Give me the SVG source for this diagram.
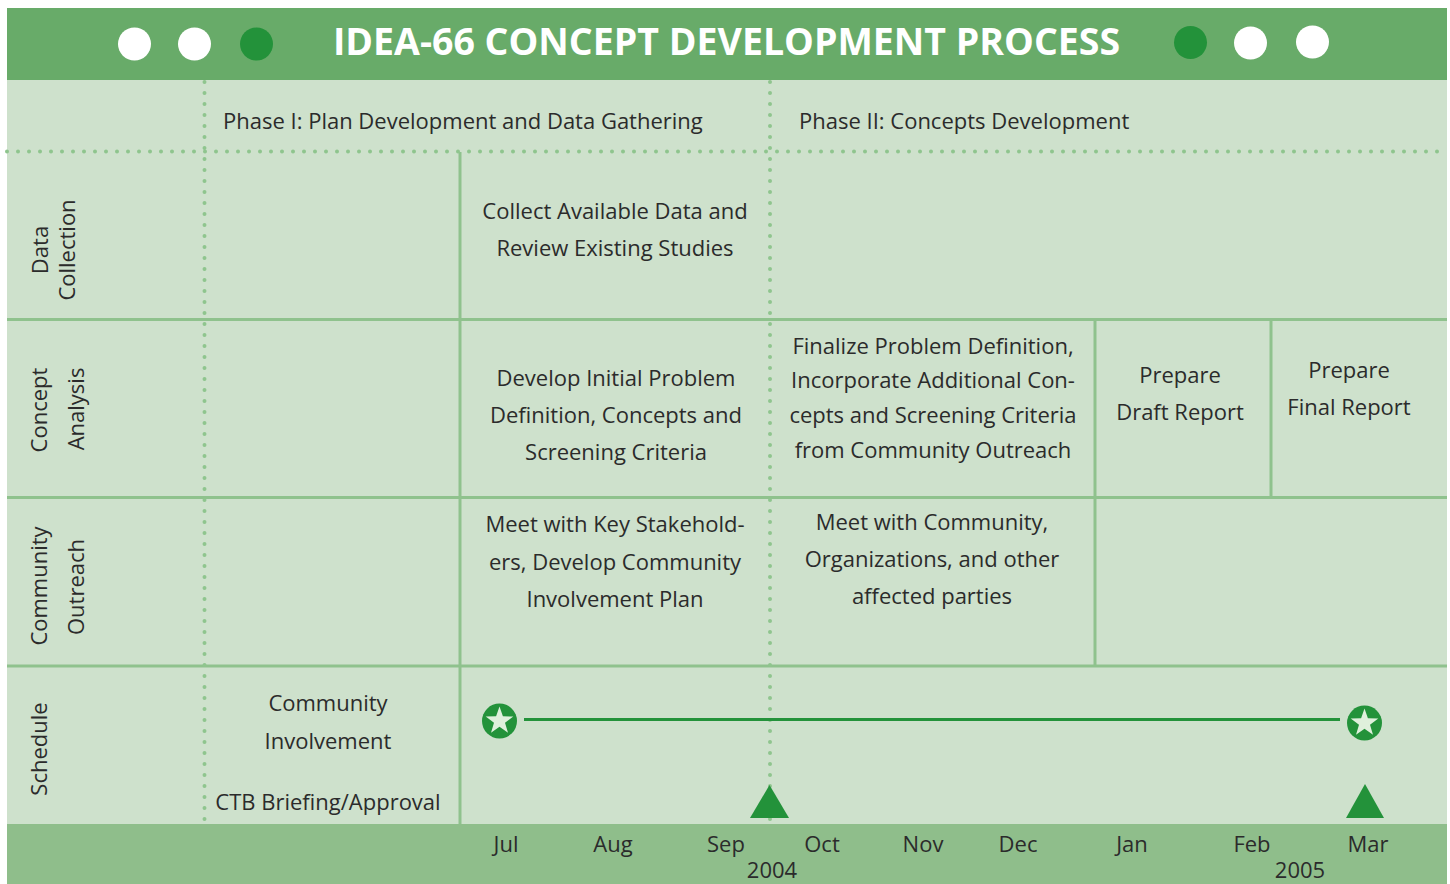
<svg xmlns="http://www.w3.org/2000/svg" width="1450" height="884" viewBox="0 0 1450 884">
<defs>
<style>
.t{font-family:"Open Sans","Noto Sans","Liberation Sans",sans-serif;font-size:22px;fill:#2b2b2b}
.c{text-anchor:middle}
.title{font-family:"Open Sans","Noto Sans","Liberation Sans",sans-serif;font-size:37.5px;font-weight:bold;fill:#ffffff}
.grid{stroke:#8fc28d;stroke-width:3;fill:none}
.dots{stroke:#8fc58e;stroke-width:4;stroke-linecap:round;stroke-dasharray:0 11;fill:none}
.dk{fill:#23923a}
</style>
<g id="star">
<circle r="17.5" fill="#23923a"/>
<polygon fill="#dff0dc" points="0,-14.5 3.4,-4.7 13.8,-4.5 5.5,1.8 8.5,11.7 0,5.8 -8.5,11.7 -5.5,1.8 -13.8,-4.5 -3.4,-4.7"/>
</g>
</defs>
<rect x="0" y="0" width="1450" height="884" fill="#ffffff"/>
<g id="body">
<rect x="7" y="80" width="1440" height="744" fill="#cee1cc"/>
<rect x="7" y="824" width="1440" height="60" fill="#8fbe8b"/>
</g>
<g id="header">
<rect x="7" y="8" width="1440" height="72" fill="#68ab69"/>
<circle cx="134.5" cy="44" r="16.5" fill="#ffffff"/>
<circle cx="194.5" cy="44" r="16.5" fill="#ffffff"/>
<circle cx="256.5" cy="44" r="16.5" class="dk"/>
<circle cx="1190.5" cy="42.5" r="16.5" class="dk"/>
<circle cx="1250.5" cy="43" r="16.5" fill="#ffffff"/>
<circle cx="1312.5" cy="42" r="16.5" fill="#ffffff"/>
<text class="title" x="726.5" y="55" text-anchor="middle">IDEA-66 CONCEPT DEVELOPMENT PROCESS</text>
</g>
<g id="gridlines">
<line class="grid" x1="7" y1="319.5" x2="1447" y2="319.5"/>
<line class="grid" x1="7" y1="497.5" x2="1447" y2="497.5"/>
<line class="grid" x1="7" y1="666" x2="1447" y2="666"/>
<line class="grid" x1="460" y1="152" x2="460" y2="824"/>
<line class="grid" x1="1095" y1="318" x2="1095" y2="667"/>
<line class="grid" x1="1271" y1="319" x2="1271" y2="497"/>
<line class="dots" x1="7" y1="151.5" x2="1447" y2="151.5"/>
<line class="dots" x1="204.5" y1="82" x2="204.5" y2="826"/>
<line class="dots" x1="770" y1="82" x2="770" y2="826"/>
</g>
<g id="phases">
<text class="t" x="223" y="129">Phase I: Plan Development and Data Gathering</text>
<text class="t" x="799" y="129">Phase II: Concepts Development</text>
</g>
<g id="row-labels">
<g id="label-data"><text class="t c" transform="translate(48,250) rotate(-90)">Data</text><text class="t c" transform="translate(75,250) rotate(-90)">Collection</text></g>
<g id="label-concept"><text class="t c" transform="translate(46.5,410) rotate(-90)">Concept</text><text class="t c" transform="translate(84,409) rotate(-90)">Analysis</text></g>
<g id="label-community"><text class="t c" transform="translate(47,586) rotate(-90)">Community</text><text class="t c" transform="translate(84,587) rotate(-90)">Outreach</text></g>
<g id="label-schedule"><text class="t c" transform="translate(47,749) rotate(-90)">Schedule</text></g>
</g>
<g id="cell-collect"><text class="t c" x="615" y="219">Collect Available Data and</text><text class="t c" x="615" y="256">Review Existing Studies</text></g>
<g id="cell-develop"><text class="t c" x="616" y="386">Develop Initial Problem</text><text class="t c" x="616" y="423">Definition, Concepts and</text><text class="t c" x="616" y="460">Screening Criteria</text></g>
<g id="cell-finalize"><text class="t c" x="933" y="354">Finalize Problem Definition,</text><text class="t c" x="933" y="388">Incorporate Additional Con-</text><text class="t c" x="933" y="423">cepts and Screening Criteria</text><text class="t c" x="933" y="458">from Community Outreach</text></g>
<g id="cell-draft"><text class="t c" x="1180" y="383">Prepare</text><text class="t c" x="1180" y="420">Draft Report</text></g>
<g id="cell-final"><text class="t c" x="1349" y="378">Prepare</text><text class="t c" x="1349" y="415">Final Report</text></g>
<g id="cell-meet-key"><text class="t c" x="615" y="532">Meet with Key Stakehold-</text><text class="t c" x="615" y="570">ers, Develop Community</text><text class="t c" x="615" y="607">Involvement Plan</text></g>
<g id="cell-meet-community"><text class="t c" x="932" y="530">Meet with Community,</text><text class="t c" x="932" y="567">Organizations, and other</text><text class="t c" x="932" y="604">affected parties</text></g>
<g id="cell-schedule-legend"><text class="t c" x="328" y="711">Community</text><text class="t c" x="328" y="749">Involvement</text><text class="t c" x="328" y="810">CTB Briefing/Approval</text></g>
<g id="connectors">
<line x1="524" y1="719.5" x2="1340" y2="719.5" stroke="#23923a" stroke-width="3"/>
</g>
<g id="milestone-start"><use href="#star" x="499.5" y="721"/></g>
<g id="milestone-end"><use href="#star" x="1364.5" y="723"/></g>
<g id="briefing-1"><polygon class="dk" points="769.5,785 750,818 789,818"/></g>
<g id="briefing-2"><polygon class="dk" points="1365,784 1346,818 1384,818"/></g>
<g id="months">
<text class="t c" x="506" y="852">Jul</text>
<text class="t c" x="613" y="852">Aug</text>
<text class="t c" x="726" y="852">Sep</text>
<text class="t c" x="822" y="852">Oct</text>
<text class="t c" x="923" y="852">Nov</text>
<text class="t c" x="1018" y="852">Dec</text>
<text class="t c" x="1132" y="852">Jan</text>
<text class="t c" x="1252" y="852">Feb</text>
<text class="t c" x="1368" y="852">Mar</text>
<text class="t c" x="772" y="878">2004</text>
<text class="t c" x="1300" y="878">2005</text>
</g>
</svg>
